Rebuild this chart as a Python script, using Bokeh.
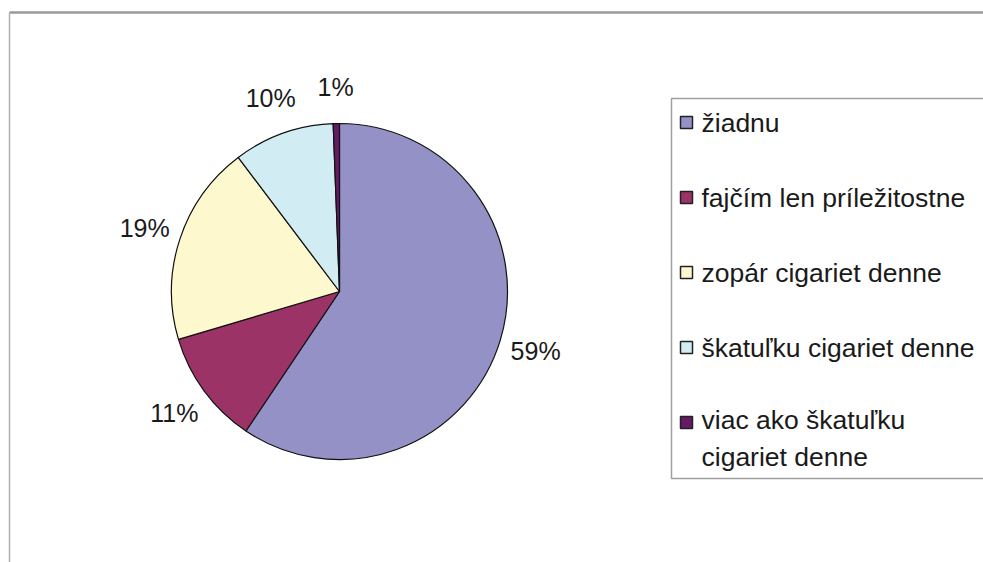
import math
from bokeh.plotting import figure
from bokeh.models import Range1d, ColumnDataSource
from bokeh.core.properties import value
from bokeh.embed import file_html
from bokeh.resources import INLINE

# ---- data ----
categories = ["žiadnu", "fajčím len príležitostne", "zopár cigariet denne",
              "škatuľku cigariet denne", "viac ako škatuľku cigariet denne"]
legend_labels = ["žiadnu", "fajčím len príležitostne", "zopár cigariet denne",
                 "škatuľku cigariet denne", "viac ako škatuľku\ncigariet denne"]
shares = [59.4, 11.0, 19.3, 9.7, 0.6]
pct_labels = ["59%", "11%", "19%", "10%", "1%"]
colors = ["#9491C6", "#9B3366", "#FEF8CF", "#D2ECF4", "#661A66"]

# ---- layout (page pixels -> data units 1:1) ----
W, H = 983, 562
def sx(x):
    return x
def sy(y):
    return H - y

cx, cy, r = sx(339), sy(291), 168
label_r = 205
FONT = value("Liberation Sans")

p = figure(width=W, height=H, output_backend="svg", toolbar_location=None,
           x_range=Range1d(0, W), y_range=Range1d(0, H),
           x_axis_location=None, y_axis_location=None, min_border=0)
p.grid.visible = False
p.outline_line_color = None
p.background_fill_color = "white"
p.border_fill_color = "white"

# outer frame (top and left edges visible)
p.segment(x0=[sx(9)], y0=[sy(12)], x1=[W + 10], y1=[sy(12)], line_color="#9a9a9a", line_width=2.5)
p.segment(x0=[sx(9)], y0=[sy(12)], x1=[sx(9)], y1=[-10], line_color="#b0b0b0", line_width=1.5)

# pie
total = sum(shares)
starts, ends, mids = [], [], []
c = 0.0
for s in shares:
    f0 = c / total
    c += s
    f1 = c / total
    starts.append(math.pi / 2 - 2 * math.pi * f0)
    ends.append(math.pi / 2 - 2 * math.pi * f1)
    mids.append(math.pi / 2 - 2 * math.pi * (f0 + f1) / 2)

src = ColumnDataSource(dict(start=starts, end=ends, color=colors, cat=categories))
p.wedge(x=cx, y=cy, radius=r, start_angle="start", end_angle="end", direction="clock",
        fill_color="color", line_color="#111111", line_width=1.2, source=src)

# percentage labels
lx = [cx + label_r * math.cos(a) for a in mids]
ly = [cy + label_r * math.sin(a) for a in mids]
p.text(x=lx, y=ly, text=pct_labels, text_align="center", text_baseline="middle",
       text_font=FONT, text_font_size="25px", text_color="#1a1a1a")

# legend box
p.quad(left=[sx(671)], right=[W + 50], top=[sy(98)], bottom=[sy(478)],
       fill_color="white", line_color="#a0a0a0", line_width=1.5)

row0, step, lh = 122, 75, 32
sq_y = [sy(row0 + step * i) for i in range(len(categories))]
txt_y = [sy(row0 + step * i + lab.count("\n") * lh / 2) for i, lab in enumerate(legend_labels)]
p.rect(x=[sx(686)] * len(colors), y=sq_y, width=12, height=12,
       fill_color=colors, line_color="#222222", line_width=1.5)
p.text(x=[sx(701)] * len(colors), y=txt_y, text=legend_labels, text_align="left",
       text_baseline="middle", text_font=FONT, text_font_size="26.5px",
       text_color="#1a1a1a", text_line_height=1.21)

open("out.html", "w").write(file_html(p, INLINE))
